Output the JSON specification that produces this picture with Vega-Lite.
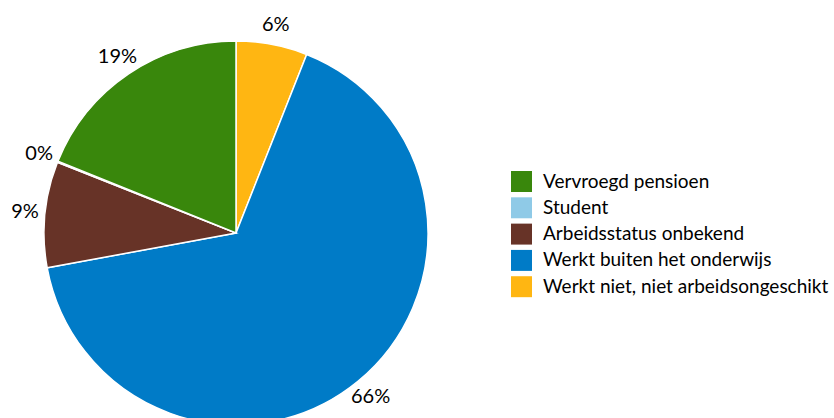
{
  "$schema": "https://vega.github.io/schema/vega-lite/v6.json",
  "autosize": {"type": "none"},
  "padding": {"left": 0, "top": 48, "right": 362, "bottom": 0},
  "width": 472,
  "height": 370,
  "background": "white",
  "data": {
    "values": [
      {"status": "Werkt niet, niet arbeidsongeschikt", "share": 0.060, "rank": 1},
      {"status": "Werkt buiten het onderwijs", "share": 0.661, "rank": 2},
      {"status": "Arbeidsstatus onbekend", "share": 0.089, "rank": 3},
      {"status": "Student", "share": 0.001, "rank": 4},
      {"status": "Vervroegd pensioen", "share": 0.189, "rank": 5}
    ]
  },
  "encoding": {
    "theta": {"field": "share", "type": "quantitative", "stack": true},
    "order": {"field": "rank", "type": "quantitative"}
  },
  "layer": [
    {
      "mark": {"type": "arc", "outerRadius": 192, "stroke": "white", "strokeWidth": 1.5},
      "encoding": {
        "color": {
          "field": "status",
          "type": "nominal",
          "scale": {
            "domain": ["Vervroegd pensioen", "Student", "Arbeidsstatus onbekend", "Werkt buiten het onderwijs", "Werkt niet, niet arbeidsongeschikt"],
            "range": ["#39870c", "#8fcae7", "#673327", "#007bc7", "#ffb612"]
          },
          "legend": {
            "title": null,
            "orient": "none",
            "legendX": 511,
            "legendY": 123,
            "symbolType": "square",
            "symbolSize": 440,
            "symbolStrokeWidth": 0,
            "labelFont": "Lato",
            "labelFontSize": 19,
            "labelLimit": 400,
            "labelColor": "#000000",
            "labelOffset": 11,
            "rowPadding": 5.3
          }
        }
      }
    },
    {
      "mark": {"type": "text", "radius": 212, "font": "Lato", "fontSize": 20, "color": "#000000"},
      "encoding": {
        "text": {"field": "share", "type": "quantitative", "format": ".0%"}
      }
    }
  ]
}
